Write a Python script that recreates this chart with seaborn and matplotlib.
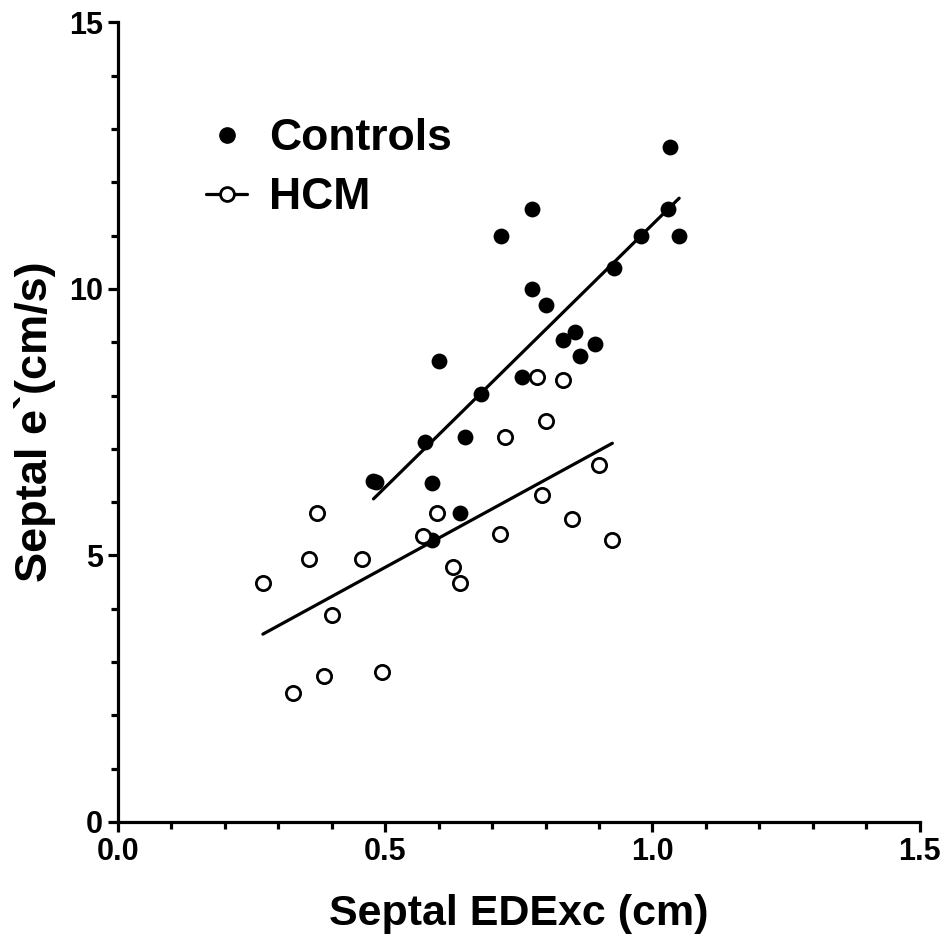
import numpy as np
import pandas as pd
import matplotlib
matplotlib.use("Agg")
import matplotlib.pyplot as plt
from matplotlib.lines import Line2D
from matplotlib.ticker import MultipleLocator
import seaborn as sns

# values
ctrl_x = [1.032, 1.029, 0.775, 0.716, 0.979, 1.050, 0.929, 0.774, 0.800, 0.855, 0.833, 0.892,
          0.865, 0.601, 0.755, 0.680, 0.574, 0.650, 0.478, 0.483, 0.587, 0.640, 0.587]
ctrl_y = [12.66, 11.49, 11.49, 10.99, 10.99, 10.99, 10.39, 9.99, 9.69, 9.19, 9.05, 8.96,
          8.74, 8.64, 8.35, 8.03, 7.13, 7.22, 6.40, 6.37, 6.35, 5.79, 5.29]

hcm_x = [0.784, 0.832, 0.800, 0.724, 0.900, 0.794, 0.372, 0.596, 0.850, 0.570, 0.715, 0.925,
         0.357, 0.456, 0.271, 0.626, 0.640, 0.400, 0.494, 0.385, 0.328]
hcm_y = [8.35, 8.29, 7.52, 7.22, 6.69, 6.14, 5.79, 5.79, 5.69, 5.36, 5.40, 5.29,
         4.93, 4.93, 4.49, 4.79, 4.49, 3.88, 2.82, 2.74, 2.42]

ctrl = pd.DataFrame({"edexc": ctrl_x, "e_prime": ctrl_y})
hcm = pd.DataFrame({"edexc": hcm_x, "e_prime": hcm_y})

sns.set_style("ticks")
plt.rcParams["font.family"] = ["Liberation Sans", "DejaVu Sans"]
plt.rcParams["font.weight"] = "bold"
for k in ["text.color", "axes.labelcolor", "axes.edgecolor", "xtick.color", "ytick.color"]:
    plt.rcParams[k] = "black"

fig = plt.figure(figsize=(9.52, 9.34), dpi=100)
ax = fig.add_axes([0.124, 0.12, 0.842, 0.856])

# regression lines
sns.regplot(data=ctrl, x="edexc", y="e_prime", scatter=False, ci=None, ax=ax,
            line_kws=dict(color="black", lw=2.3))
sns.regplot(data=hcm, x="edexc", y="e_prime", scatter=False, ci=None, ax=ax,
            line_kws=dict(color="black", lw=2.3))

# points
sns.scatterplot(data=ctrl, x="edexc", y="e_prime", ax=ax, color="black", s=130,
                edgecolor="black", linewidth=0, zorder=3)
sns.scatterplot(data=hcm, x="edexc", y="e_prime", ax=ax, facecolor="white", s=105,
                edgecolor="black", linewidth=2.0, zorder=3)

ax.set_xlim(0, 1.5)
ax.set_ylim(0, 15)
ax.xaxis.set_major_locator(MultipleLocator(0.5))
ax.xaxis.set_minor_locator(MultipleLocator(0.1))
ax.yaxis.set_major_locator(MultipleLocator(5))
ax.yaxis.set_minor_locator(MultipleLocator(1))
ax.xaxis.set_major_formatter(plt.FormatStrFormatter("%.1f"))
ax.yaxis.set_major_formatter(plt.FormatStrFormatter("%d"))

sns.despine(ax=ax)
for s in ["left", "bottom"]:
    ax.spines[s].set_linewidth(2.3)
ax.tick_params(which="major", length=7, width=2.3, labelsize=22, pad=4, colors="black")
ax.tick_params(which="minor", length=5, width=2.3, colors="black")
for lab in ax.get_xticklabels() + ax.get_yticklabels():
    lab.set_fontweight("bold")

ax.set_xlabel("Septal EDExc (cm)", fontsize=31, fontweight="bold", labelpad=19)
ax.set_ylabel("Septal e`(cm/s)", fontsize=32.5, fontweight="bold", labelpad=9)

handles = [
    Line2D([], [], color="black", marker="o", linestyle="none", markersize=11),
    Line2D([], [], color="black", marker="o", markerfacecolor="white", lw=2.3,
           markersize=10, markeredgewidth=2.0),
]
ax.legend(handles, ["Controls", "HCM"], loc="upper left", bbox_to_anchor=(0.11, 0.88),
          frameon=False, prop=dict(weight="bold", size=32),
          handlelength=0.92, handletextpad=0.5, labelspacing=0.4, borderpad=0, borderaxespad=0)

fig.savefig("out.png", dpi=100)
